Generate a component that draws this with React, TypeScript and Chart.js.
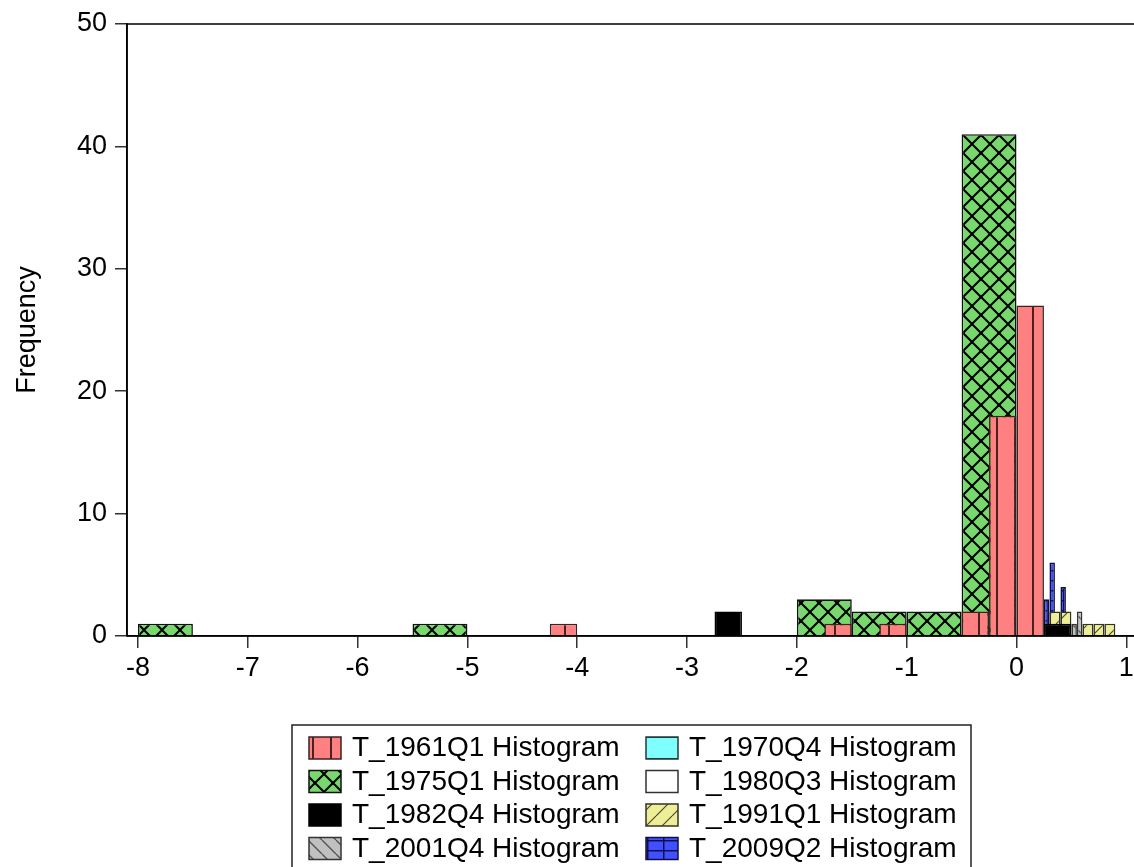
import { useEffect, useRef } from "react";
import { Chart, registerables } from "chart.js";

Chart.register(...registerables);

// ---------- data ----------
const seriesLabels = [
  "T_1961Q1 Histogram",
  "T_1970Q4 Histogram",
  "T_1975Q1 Histogram",
  "T_1980Q3 Histogram",
  "T_1982Q4 Histogram",
  "T_1991Q1 Histogram",
  "T_2001Q4 Histogram",
  "T_2009Q2 Histogram",
];
const binWidths = [0.25, 0.25, 0.5, 0.25, 0.25, 0.1, 0.05, 0.05];

const t1961Starts = [-4.25, -1.75, -1.25, -0.5, -0.25, 0];
const t1961Counts = [1, 1, 1, 2, 18, 27];
const t1970Starts: number[] = [];
const t1970Counts: number[] = [];
const t1975Starts = [-8, -5.5, -2, -1.5, -1, -0.5];
const t1975Counts = [1, 1, 3, 2, 2, 41];
const t1980Starts: number[] = [];
const t1980Counts: number[] = [];
const t1982Starts = [-2.75, 0, 0.25];
const t1982Counts = [2, 0, 1];
const t1991Starts = [0.3, 0.4, 0.6, 0.7, 0.8];
const t1991Counts = [2, 2, 1, 1, 1];
const t2001Starts = [0.5, 0.55];
const t2001Counts = [1, 2];
const t2009Starts = [0.25, 0.3, 0.4];
const t2009Counts = [3, 6, 4];

const binStarts = [t1961Starts, t1970Starts, t1975Starts, t1980Starts, t1982Starts, t1991Starts, t2001Starts, t2009Starts];
const binCounts = [t1961Counts, t1970Counts, t1975Counts, t1980Counts, t1982Counts, t1991Counts, t2001Counts, t2009Counts];

const xTickValues = [-8, -7, -6, -5, -4, -3, -2, -1, 0, 1];
const yTickValues = [0, 10, 20, 30, 40, 50];
const xMin = -8.1;
const xMax = 1.07;
const yMin = 0;
const yMax = 50;
const yTitle = "Frequency";

// ---------- styles ----------
const FONT = '"Liberation Sans", Arial, sans-serif';
const fillColors = ["#FF8080", "#80FFFF", "#78D86E", "#FFFFFF", "#000000", "#EEEE99", "#C0C0C0", "#4050FF"];
const borderColors = ["#3a2222", "#223a3a", "#111111", "#333333", "#000000", "#333322", "#333333", "#101040"];

function makePattern(kind: string, bg: string): CanvasPattern | string {
  if (kind === "solid") return bg;
  const c = document.createElement("canvas");
  let w = 18, h = 18;
  if (kind === "vlines") { w = 18; h = 24; }
  if (kind === "cross") { w = 18; h = 18; }
  if (kind === "hline") { w = 8; h = 22; }
  if (kind === "slash") { w = 16; h = 16; }
  if (kind === "backslash") { w = 14; h = 14; }
  if (kind === "grid") { w = 16; h = 10; }
  c.width = w; c.height = h;
  const g = c.getContext("2d")!;
  g.fillStyle = bg;
  g.fillRect(0, 0, w, h);
  g.lineCap = "butt";
  if (kind === "vlines") {
    g.fillStyle = "#4a2020";
    g.fillRect(6, 0, 2, h);
  } else if (kind === "cross") {
    g.strokeStyle = "#000";
    g.lineWidth = 2;
    g.beginPath();
    for (let k = -1; k <= 1; k++) {
      g.moveTo(k * w, 0); g.lineTo(k * w + w, h);
      g.moveTo(k * w + w, 0); g.lineTo(k * w, h);
    }
    g.stroke();
    g.fillStyle = "#000";
    g.fillRect(w / 2 - 1.5, h / 2 - 1.5, 3, 3);
  } else if (kind === "hline") {
    g.fillStyle = "#1a4040";
    g.fillRect(0, 10, w, 2);
  } else if (kind === "slash") {
    g.strokeStyle = "#4a4a30";
    g.lineWidth = 1.2;
    g.beginPath();
    for (let k = -1; k <= 1; k++) {
      g.moveTo(k * w, h); g.lineTo(k * w + w, 0);
    }
    g.stroke();
  } else if (kind === "backslash") {
    g.strokeStyle = "#555";
    g.lineWidth = 1.4;
    g.beginPath();
    for (let k = -1; k <= 1; k++) {
      g.moveTo(k * w, 0); g.lineTo(k * w + w, h);
    }
    g.stroke();
  } else if (kind === "grid") {
    g.fillStyle = "#101050";
    g.fillRect(7, 0, 1.5, h);
    g.fillRect(0, 0, w, 1.5);
  }
  return g.createPattern(c, "repeat")!;
}

const patternKinds = ["vlines", "hline", "cross", "solid", "solid", "slash", "backslash", "grid"];

const framePlugin = {
  id: "frameLines",
  afterDatasetsDraw(chart: any) {
    const { ctx, chartArea } = chart;
    ctx.save();
    ctx.strokeStyle = "#000";
    ctx.lineWidth = 1.6;
    ctx.beginPath();
    ctx.moveTo(chartArea.left, chartArea.top);
    ctx.lineTo(chartArea.right, chartArea.top);
    ctx.moveTo(chartArea.left, chartArea.top);
    ctx.lineTo(chartArea.left, chartArea.bottom);
    ctx.moveTo(chartArea.left, chartArea.bottom);
    ctx.lineTo(chartArea.right, chartArea.bottom);
    ctx.stroke();
    ctx.restore();
  },
};

const legendPlugin = {
  id: "gridLegend",
  afterDraw(chart: any) {
    const { ctx } = chart;
    const boxX = 292, boxY = 725, boxW = 679, boxH = 170;
    const colW = 337, rowH = 33.5;
    ctx.save();
    ctx.strokeStyle = "#222";
    ctx.lineWidth = 1.5;
    ctx.strokeRect(boxX, boxY, boxW, boxH);
    chart.data.datasets.forEach((ds: any, i: number) => {
      const col = i % 2;
      const row = Math.floor(i / 2);
      const sx = boxX + 17 + col * colW;
      const sy = boxY + 12 + row * rowH;
      ctx.fillStyle = ds.backgroundColor;
      ctx.fillRect(sx, sy, 32, 22);
      ctx.strokeStyle = ds.borderColor;
      ctx.lineWidth = 1.5;
      ctx.strokeRect(sx, sy, 32, 22);
      ctx.fillStyle = "#000";
      ctx.font = `28px ${FONT}`;
      ctx.textBaseline = "middle";
      ctx.textAlign = "left";
      ctx.fillText(ds.label, sx + 43, sy + 11.5);
    });
    ctx.restore();
  },
};

export default function App() {
  const ref = useRef<HTMLCanvasElement | null>(null);

  useEffect(() => {
    document.body.style.margin = "0";
    const canvas = ref.current!;
    const datasets = seriesLabels.map((label, i) => ({
      type: "bar" as const,
      label,
      xAxisID: "x" + i,
      data: binStarts[i].map((s, j) => ({
        x: s + binWidths[i] / 2,
        y: binCounts[i][j] === 0 ? null : binCounts[i][j],
      })),
      backgroundColor: makePattern(patternKinds[i], fillColors[i]),
      borderColor: borderColors[i],
      borderWidth: 1.6,
      borderSkipped: "start",
      barPercentage: 1,
      categoryPercentage: 1,
      grouped: false,
      inflateAmount: 0,
    }));

    const setXTicks = (scale: any) => {
      scale.ticks = xTickValues.map((v) => ({ value: v }));
    };

    const scales: any = {};
    seriesLabels.forEach((_, i) => {
      const cfg: any = {
        type: "linear",
        position: "bottom",
        display: i === 0,
        offset: false,
        min: xMin,
        max: xMax,
        afterBuildTicks: setXTicks,
        grid: { offset: false, drawOnChartArea: false, drawTicks: true, tickLength: 12, color: "#333", lineWidth: 1.5 },
        border: { display: true, color: "#000", width: 1.6 },
        ticks: { color: "#000", font: { family: FONT, size: 27 }, padding: 4, maxRotation: 0, autoSkip: false },
      };
      if (i === 0) cfg.afterFit = (s: any) => { s.height = 80; s.paddingLeft = 0; s.paddingRight = 0; };
      scales["x" + i] = cfg;
    });
    scales.y = {
      type: "linear",
      position: "left",
      min: yMin,
      max: yMax,
      afterBuildTicks: (scale: any) => { scale.ticks = yTickValues.map((v) => ({ value: v })); },
      afterFit: (s: any) => { s.width = 127; s.paddingTop = 0; s.paddingBottom = 0; },
      grid: { drawOnChartArea: false, drawTicks: true, tickLength: 12, color: "#333", lineWidth: 1.5 },
      border: { display: true, color: "#000", width: 1.6 },
      ticks: { color: "#000", font: { family: FONT, size: 27 }, padding: 8 },
      title: { display: true, text: yTitle, color: "#000", font: { family: FONT, size: 27 }, padding: { top: 11, bottom: 0 } },
    };

    const chart = new Chart(canvas, {
      type: "bar",
      data: { datasets: datasets as any },
      options: {
        responsive: false,
        animation: false,
        devicePixelRatio: 1,
        layout: { padding: { top: 24, left: 0, right: 0, bottom: 151 } },
        plugins: { legend: { display: false }, tooltip: { enabled: false } },
        scales,
      } as any,
      plugins: [framePlugin, legendPlugin],
    });
    return () => chart.destroy();
  }, []);

  return (
    <div style={{ width: 1134, height: 867, background: "#fff" }}>
      <canvas ref={ref} width={1134} height={867} style={{ display: "block" }} />
    </div>
  );
}
